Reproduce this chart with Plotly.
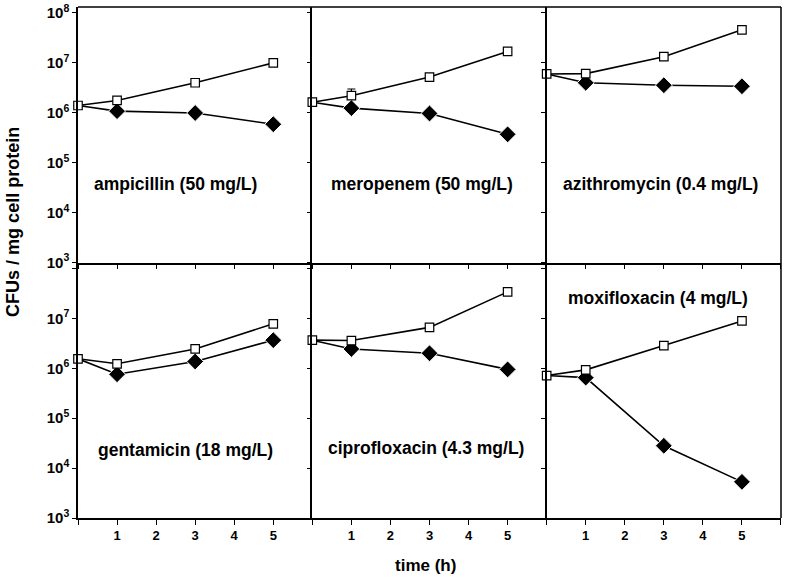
import plotly.graph_objects as go
from plotly.subplots import make_subplots

times = [0, 1, 3, 5]
drugs = ["ampicillin (50 mg/L)", "meropenem (50 mg/L)", "azithromycin (0.4 mg/L)",
         "gentamicin (18 mg/L)", "ciprofloxacin (4.3 mg/L)", "moxifloxacin (4 mg/L)"]

# open squares (control) and filled diamonds (antibiotic), CFUs / mg cell protein
control = [
    [1.4e6, 1.77e6, 4.0e6, 1.0e7],
    [1.63e6, 2.2e6, 5.2e6, 1.7e7],
    [6.0e6, 6.1e6, 1.33e7, 4.6e7],
    [1.55e6, 1.23e6, 2.44e6, 7.8e6],
    [3.66e6, 3.6e6, 6.6e6, 3.4e7],
    [7.15e5, 9.3e5, 2.85e6, 8.9e6],
]
control_err = [
    [0, 0, 0, 0],
    [0, 0.8e6, 0, 0],
    [0, 0, 0, 0.7e7],
    [0, 0, 0, 0],
    [0, 0, 0, 0],
    [0, 0, 0.35e6, 0],
]
treated = [
    [1.4e6, 1.08e6, 9.9e5, 5.9e5],
    [1.63e6, 1.24e6, 9.7e5, 3.7e5],
    [6.0e6, 4.0e6, 3.57e6, 3.4e6],
    [1.55e6, 7.6e5, 1.37e6, 3.66e6],
    [3.66e6, 2.44e6, 2.0e6, 9.5e5],
    [7.15e5, 6.5e5, 2.8e4, 5.3e3],
]

label_pos = [(0.414, 0.309), (0.468, 0.309), (0.484, 0.309),
             (0.46, 0.267), (0.485, 0.275), (0.476, 0.863)]

fig = make_subplots(rows=2, cols=3, horizontal_spacing=0, vertical_spacing=0)

font = "Liberation Sans, Arial, sans-serif"

for i in range(6):
    r, c = i // 3 + 1, i % 3 + 1
    # t=0 is shared with the control, only the square shows there
    fig.add_trace(go.Scatter(
        x=times, y=treated[i], mode="lines+markers", cliponaxis=False,
        line=dict(color="black", width=1.6),
        marker=dict(symbol="diamond", size=[0, 13, 13, 13], color="black", opacity=1),
        showlegend=False), row=r, col=c)
    fig.add_trace(go.Scatter(
        x=times, y=control[i], mode="lines+markers", cliponaxis=False,
        line=dict(color="black", width=1.6),
        marker=dict(symbol="square", size=8.5, color="white",
                    line=dict(color="black", width=1.2)),
        error_y=dict(type="data", array=control_err[i], arrayminus=[e * 0.4 for e in control_err[i]],
                     color="black", thickness=1.2, width=4),
        showlegend=False), row=r, col=c)
    n = "" if i == 0 else str(i + 1)
    fig.add_annotation(text="<b>" + drugs[i] + "</b>", xref="x" + n + " domain",
                       yref="y" + n + " domain", x=label_pos[i][0], y=label_pos[i][1],
                       xanchor="center", yanchor="middle", showarrow=False,
                       font=dict(size=17.5, color="black", family=font))

decades = [1e3, 1e4, 1e5, 1e6, 1e7, 1e8]
for r in (1, 2):
    for c in (1, 2, 3):
        fig.update_xaxes(range=[0, 6], tickvals=[0, 1, 2, 3, 4, 5, 6],
                         ticktext=["", "<b>1</b>", "<b>2</b>", "<b>3</b>", "<b>4</b>", "<b>5</b>", ""],
                         showticklabels=(r == 2), ticks="outside", ticklen=5,
                         tickcolor="black", tickwidth=1.2, automargin=False,
                         showline=True, linecolor="black", linewidth=1.5,
                         showgrid=False, zeroline=False,
                         tickfont=dict(size=13, color="black", family=font), row=r, col=c)
        labels = ["<b>10<sup>%d</sup></b>" % k for k in range(3, 9)]
        if r == 2:
            labels[-1] = ""
        fig.update_yaxes(type="log", range=[3, 8.12], tickvals=decades, ticktext=labels,
                         showticklabels=(c == 1), ticks="outside", ticklen=4,
                         tickcolor="black", tickwidth=1.2, automargin=False,
                         showline=True, linecolor="black", linewidth=1.5,
                         showgrid=False, zeroline=False,
                         tickfont=dict(size=15, color="black", family=font), row=r, col=c)

# outer top and right border
fig.add_shape(type="line", xref="paper", yref="paper", x0=0, x1=1, y0=1, y1=1,
              line=dict(color="black", width=1.5))
fig.add_shape(type="line", xref="paper", yref="paper", x0=1, x1=1, y0=0, y1=1,
              line=dict(color="black", width=1.5))

fig.add_annotation(text="<b>CFUs / mg cell protein</b>", xref="paper", yref="paper",
                   x=-0.0935, y=0.58, textangle=-90, showarrow=False,
                   xanchor="center", yanchor="middle",
                   font=dict(size=18, color="black", family=font))
fig.add_annotation(text="<b>time (h)</b>", xref="paper", yref="paper",
                   x=0.494, y=-0.092, showarrow=False, xanchor="center", yanchor="middle",
                   font=dict(size=17, color="black", family=font))

fig.update_layout(width=791, height=578, margin=dict(l=78, r=10, t=7, b=60),
                  plot_bgcolor="white", paper_bgcolor="white",
                  font=dict(family=font, color="black"))

fig.write_html("out.html", config={"displayModeBar": False},
               post_script="document.body.style.margin='0';")
